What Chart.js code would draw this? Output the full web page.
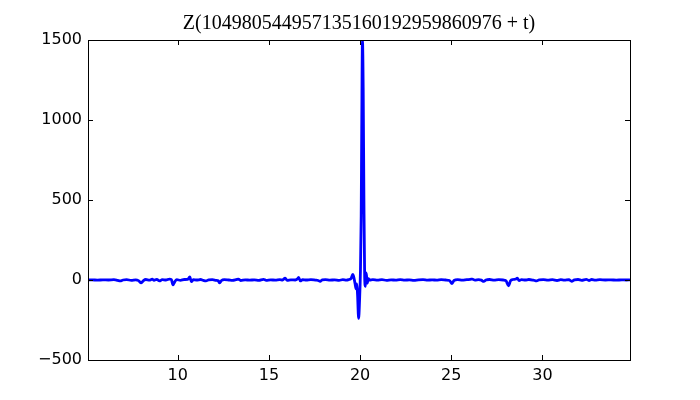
<!DOCTYPE html>
<html>
<head>
<meta charset="utf-8">
<script src="https://cdn.jsdelivr.net/npm/chart.js@4"></script>
<style>
  html, body { margin: 0; padding: 0; background: #fff; }
  #wrap { width: 700px; height: 400px; }
</style>
</head>
<body>
<div id="wrap"><canvas id="zChart" width="700" height="400"></canvas></div>
<script>
// t offsets and Z values
const tValues = [
  5.08, 5.3, 5.6, 5.9, 6.2, 6.5, 6.7, 6.85, 7.0, 7.2, 7.45, 7.7, 7.85, 8.0, 8.12, 8.25, 8.45, 8.6, 8.7, 8.85,
  9.0, 9.15, 9.35, 9.55, 9.65, 9.74, 9.85, 9.95, 10.15, 10.35, 10.55, 10.66, 10.75, 10.85, 11.05, 11.25, 11.4, 11.55, 11.7, 11.9,
  12.1, 12.22, 12.3, 12.4, 12.55, 12.8, 13.0, 13.2, 13.33, 13.45, 13.7, 13.95, 14.2, 14.45, 14.7, 14.85, 15.1, 15.35, 15.6, 15.75,
  15.89, 16.0, 16.2, 16.45, 16.55, 16.63, 16.72, 16.85, 17.05, 17.3, 17.55, 17.7, 17.81, 17.92, 18.1, 18.35, 18.6, 18.85, 19.05, 19.25,
  19.4, 19.5, 19.6, 19.66, 19.72, 19.78, 19.82, 19.86, 19.92, 19.97, 20.02, 20.06, 20.09, 20.13, 20.17, 20.21, 20.25, 20.29, 20.34, 20.39,
  20.45, 20.52, 20.7, 20.95, 21.2, 21.45, 21.7, 21.95, 22.2, 22.45, 22.7, 22.95, 23.2, 23.45, 23.7, 23.95, 24.2, 24.45, 24.7, 24.9,
  25.04, 25.15, 25.35, 25.6, 25.85, 26.05, 26.15, 26.3, 26.5, 26.65, 26.78, 26.9, 27.1, 27.35, 27.6, 27.85, 28.0, 28.14, 28.25, 28.38,
  28.55, 28.62, 28.72, 28.85, 29.05, 29.25, 29.5, 29.68, 29.82, 30.05, 30.3, 30.55, 30.8, 31.0, 31.2, 31.45, 31.6, 31.75, 31.95, 32.15,
  32.4, 32.55, 32.7, 32.9, 33.15, 33.45, 33.75, 34.05, 34.35, 34.6, 34.8
];
const zValues = [
  0, 1, -1, 1, 0, 2, -2, -6, 0, 2, -2, 1, -4, -18, -4, 3, -1, 5, -2, 4,
  -6, 2, 0, 6, 3, -30, -8, 2, -2, 3, 4, 20, -10, 2, 0, 3, -2, -6, 1, 2,
  -2, -5, -18, -3, 2, 0, -2, 2, 6, -3, 1, -1, 1, -2, 4, -2, 1, -1, 2, 0,
  12, -2, 1, 0, 5, 16, -6, 2, 0, 2, -1, -3, -9, 1, 2, -1, 1, -2, 2, -1,
  3, 8, 35, 15, -20, -55, -25, -90, -240, -130, 60, 400, 950, 1498, 1200, 500, 20, -40, 45, -20,
  8, 0, 2, -1, 2, -2, 1, -1, 2, -1, 1, -2, 1, 2, -1, 1, -1, 2, 0, -3,
  -22, -3, 2, -1, 2, 4, 6, -1, 2, -1, -9, 0, 3, -1, 2, 0, -5, -36, -5, 3,
  6, 12, -4, 2, 0, 3, -1, -6, 1, 2, -1, 2, -3, 2, -1, 2, -8, 1, 3, -2,
  4, -3, 3, -1, 2, 0, 1, -1, 1, 0, 1
];
const xTicks = [10, 15, 20, 25, 30];
const yTicks = [-500, 0, 500, 1000, 1500];
const titleText = 'Z(104980544957135160192959860976 + t)';

// matplotlib style frame with inward ticks on all four sides
const framePlugin = {
  id: 'frame',
  afterDraw(chart) {
    const { ctx, chartArea: a, scales } = chart;
    const len = 5;
    ctx.save();
    ctx.strokeStyle = '#000';
    ctx.lineWidth = 1;
    ctx.beginPath();
    scales.x.ticks.forEach(t => {
      const px = Math.round(scales.x.getPixelForValue(t.value)) + 0.5;
      ctx.moveTo(px, a.bottom); ctx.lineTo(px, a.bottom - len);
      ctx.moveTo(px, a.top); ctx.lineTo(px, a.top + len);
    });
    scales.y.ticks.forEach(t => {
      const py = Math.round(scales.y.getPixelForValue(t.value)) + 0.5;
      ctx.moveTo(a.left, py); ctx.lineTo(a.left + len, py);
      ctx.moveTo(a.right, py); ctx.lineTo(a.right - len, py);
    });
    ctx.stroke();
    ctx.strokeRect(Math.round(a.left) + 0.5, Math.round(a.top) + 0.5,
      Math.round(a.right - a.left), Math.round(a.bottom - a.top));
    ctx.restore();
  }
};

new Chart(document.getElementById('zChart'), {
  type: 'line',
  data: {
    datasets: [{
      data: tValues.map((t, i) => ({ x: t, y: zValues[i] })),
      borderColor: '#0000ff',
      borderWidth: 2.8,
      pointRadius: 0,
      cubicInterpolationMode: 'monotone',
      fill: false
    }]
  },
  options: {
    responsive: false,
    animation: false,
    layout: { padding: { left: 0, right: 70, top: 0, bottom: 0 } },
    plugins: {
      legend: { display: false },
      tooltip: { enabled: false },
      title: {
        display: true,
        text: titleText,
        fullSize: false,
        color: '#000',
        font: { family: 'Liberation Serif', size: 20, weight: 'normal' },
        padding: { top: 12, bottom: 4 }
      }
    },
    scales: {
      x: {
        type: 'linear',
        min: 5.08,
        max: 34.8,
        afterBuildTicks: s => { s.ticks = xTicks.map(v => ({ value: v })); },
        afterFit: s => { s.height = 40; },
        grid: { display: false, drawTicks: false },
        border: { display: false },
        ticks: {
          color: '#000',
          padding: 6,
          maxRotation: 0,
          font: { family: 'DejaVu Sans', size: 16 }
        }
      },
      y: {
        min: -500,
        max: 1500,
        afterBuildTicks: s => { s.ticks = yTicks.map(v => ({ value: v })); },
        afterFit: s => { s.width = 88; },
        grid: { display: false, drawTicks: false },
        border: { display: false },
        ticks: {
          color: '#000',
          padding: 6,
          callback: v => String(v).replace('-', '\u2212'),
          font: { family: 'DejaVu Sans', size: 16 }
        }
      }
    }
  },
  plugins: [framePlugin]
});
</script>
</body>
</html>
